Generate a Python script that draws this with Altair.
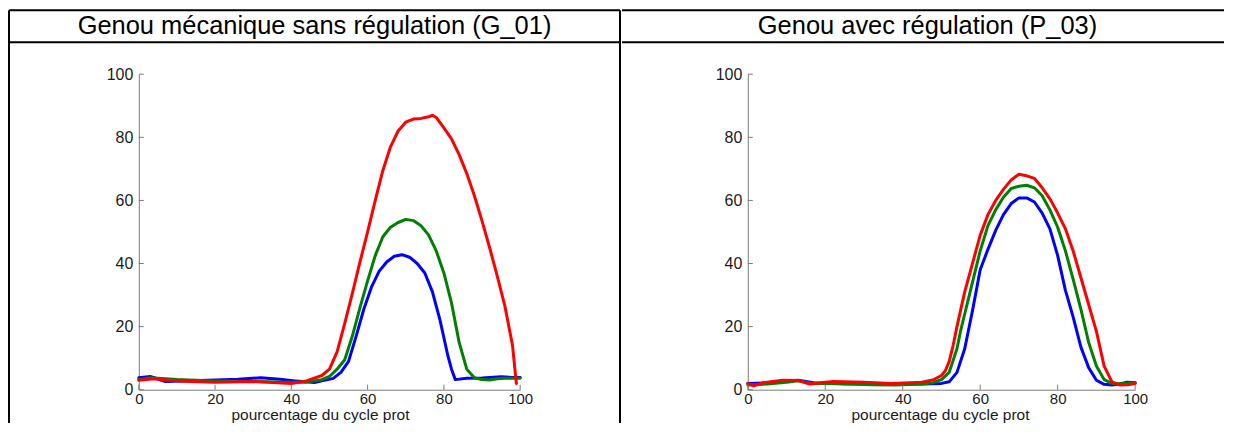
import altair as alt
import pandas as pd

# ---------------- data ----------------
TICKS = [0, 20, 40, 60, 80, 100]

TITLE_LEFT = "Genou mécanique sans régulation (G_01)"
TITLE_RIGHT = "Genou avec régulation (P_03)"
XTITLE = "pourcentage du cycle prot"

# Left panel (G_01)
g01_blue_x = [0, 3, 7, 16, 26, 32, 37, 41, 46, 51, 53, 55, 57, 59, 61, 63, 65, 67, 69, 71, 73, 75, 77, 79, 81, 82, 83, 86, 90, 95, 98, 100]
g01_blue_y = [3.8, 4.2, 2.6, 2.9, 3.3, 3.8, 3.3, 2.8, 2.3, 3.6, 5.5, 9, 17, 25.5, 32.5, 37.5, 40.5, 42.3, 42.8, 42, 40, 37, 31, 22, 11, 6.5, 3.2, 3.6, 3.7, 4.1, 3.9, 3.9]

g01_green_x = [0, 3, 10, 20, 30, 40, 44, 48, 50, 52, 54, 56, 58, 60, 62, 64, 66, 68, 70, 72, 74, 76, 78, 80, 82, 84, 86, 88, 90, 92, 94, 96, 98, 100]
g01_green_y = [3.2, 3.8, 3.2, 2.8, 2.6, 2.4, 2.4, 3.2, 4.2, 6.5, 9.5, 17, 26, 34.5, 42.5, 48.5, 51.5, 53, 54, 53.6, 52, 49, 44, 37, 27.5, 15, 6.5, 3.8, 3.2, 3.1, 3.5, 3.6, 3.6, 3.6]

g01_red_x = [0, 4, 10, 20, 30, 40, 44, 48, 50, 52, 54, 56, 58, 60, 62, 64, 66, 68, 70, 72, 74, 76, 77, 78, 80, 82, 84, 86, 88, 90, 92, 94, 96, 98, 99]
g01_red_y = [3, 3.5, 2.8, 2.4, 2.6, 2.0, 2.8, 4.5, 6.5, 12, 21, 30.5, 40.5, 50, 60, 69.5, 77, 82, 84.8, 85.8, 86, 86.5, 87, 86.3, 83, 79.5, 74.5, 68.5, 61.5, 53.5, 45, 36, 26.5, 14, 2]

# Right panel (P_03)
p03_blue_x = [0, 5, 10, 13, 17, 25, 35, 45, 50, 52, 54, 56, 57, 58, 60, 62, 64, 66, 68, 70, 72, 74, 76, 78, 80, 82, 84, 86, 88, 90, 92, 94, 96, 98, 100]
p03_blue_y = [2, 2.2, 2.8, 3, 2.2, 1.8, 1.8, 1.8, 2, 2.5, 5.5, 13, 19, 25, 38, 44.5, 50.5, 55.5, 59, 60.8, 60.8, 59.5, 56, 51, 42.5, 31.5, 23, 13.5, 7, 3, 1.7, 1.5, 1.8, 2.4, 2.2]

p03_green_x = [0, 5, 10, 13, 17, 25, 32, 38, 45, 48, 50, 52, 54, 55, 56, 58, 60, 62, 64, 66, 68, 70, 72, 74, 76, 78, 80, 82, 84, 86, 88, 90, 92, 94, 96, 100]
p03_green_y = [1.5, 1.8, 2.4, 2.8, 2, 2, 1.6, 1.5, 1.8, 2.3, 3.2, 5.5, 13, 19, 24, 34, 44, 52, 57, 61, 63.8, 64.5, 64.8, 64, 61.5, 57, 51.5, 44, 35, 25.5, 15, 7.5, 3.2, 2, 1.9, 2.2]

p03_red_x = [0, 1.5, 4, 9, 13, 16, 22, 30, 37, 45, 48, 50, 51, 52, 53, 54, 56, 58, 60, 62, 64, 66, 68, 70, 72, 74, 76, 78, 80, 82, 84, 86, 88, 90, 92, 94, 96, 98, 100]
p03_red_y = [2, 1.2, 2.2, 3, 2.9, 1.8, 2.6, 2.4, 2, 2.4, 3.2, 4.5, 6, 9, 14, 20, 31, 40, 49, 55.5, 60, 63.5, 66.5, 68.3, 67.8, 67, 64, 60.5, 56, 51, 44, 35.5, 27, 18.5, 7.5, 2.5, 1.5, 1.6, 2]

COLORS = {"blue": "#0000ff", "green": "#008000", "red": "#ff0000"}

FONT = "Liberation Sans"
AXIS_GREY = "#7a7a7a"
BORDER = "#000000"


def one():
    return alt.Data(values=[{"k": 1}])


def panel(W, H, series, title, title_cx, xtitle_cx, xtitle_cy,
          left_edge, right_edge, vertical_rules):
    xs = alt.Scale(domain=[0, 100], nice=False, zero=False)
    ys = alt.Scale(domain=[0, 100], nice=False, zero=False)
    xax = alt.Axis(values=TICKS, title=None)
    yax = alt.Axis(values=TICKS, title=None)
    layers = []
    for name, xv, yv in series:
        df = pd.DataFrame({"x": xv, "y": yv})
        layers.append(
            alt.Chart(df).mark_line(color=COLORS[name], strokeWidth=3,
                                    strokeJoin="round", strokeCap="round")
            .encode(x=alt.X("x:Q", scale=xs, axis=xax),
                    y=alt.Y("y:Q", scale=ys, axis=yax))
        )
    tdf = pd.DataFrame({"t": TICKS})
    # inward ticks (MATLAB style)
    layers.append(
        alt.Chart(tdf).mark_rule(color=AXIS_GREY, strokeWidth=1)
        .encode(y=alt.Y("t:Q", scale=ys, axis=yax), x=alt.value(0), x2=alt.value(5))
    )
    layers.append(
        alt.Chart(tdf).mark_rule(color=AXIS_GREY, strokeWidth=1)
        .encode(x=alt.X("t:Q", scale=xs, axis=xax), y=alt.value(H), y2=alt.value(H - 5))
    )
    # table borders
    top, hline, bottom = -64, -32, 356
    for yy in (top, hline):
        layers.append(
            alt.Chart(one()).mark_rule(color=BORDER, strokeWidth=2)
            .encode(x=alt.value(left_edge), x2=alt.value(right_edge), y=alt.value(yy))
        )
    for xx in vertical_rules:
        layers.append(
            alt.Chart(one()).mark_rule(color=BORDER, strokeWidth=2)
            .encode(x=alt.value(xx), y=alt.value(top), y2=alt.value(bottom))
        )
    # header text
    layers.append(
        alt.Chart(one()).mark_text(font=FONT, fontSize=25.5, color="#000000",
                                   align="center", baseline="middle")
        .encode(x=alt.value(title_cx), y=alt.value(-48), text=alt.value(title))
    )
    # x axis title
    layers.append(
        alt.Chart(one()).mark_text(font=FONT, fontSize=15.5, color="#1a1a1a",
                                   align="center", baseline="middle")
        .encode(x=alt.value(xtitle_cx), y=alt.value(xtitle_cy), text=alt.value(XTITLE))
    )
    return alt.layer(*layers).properties(width=W, height=H)


left = panel(382, 316,
             [("blue", g01_blue_x, g01_blue_y),
              ("green", g01_green_x, g01_green_y),
              ("red", g01_red_x, g01_red_y)],
             TITLE_LEFT, 176, 182, 341.5, -130, 482, [-130, 482])

right = panel(388, 316,
              [("blue", p03_blue_x, p03_blue_y),
               ("green", p03_green_x, p03_green_y),
               ("red", p03_red_x, p03_red_y)],
              TITLE_RIGHT, 180, 193, 341.5, -126, 477, [])

chart = alt.hconcat(left, right, spacing=0).configure(
    padding={"left": 0, "top": 1, "right": 0, "bottom": -8}
).configure_view(stroke=None).configure_axis(
    ticks=False,
    domainColor=AXIS_GREY,
    domainWidth=1,
    labelFont=FONT,
    labelColor="#1a1a1a",
    labelFlush=False,
    labelBound=False,
    labelOverlap=False,
    grid=False,
).configure_axisY(labelPadding=6, labelFontSize=16).configure_axisX(labelPadding=2, labelFontSize=15)

chart.save("out.html", embed_options={"renderer": "svg", "actions": False})
